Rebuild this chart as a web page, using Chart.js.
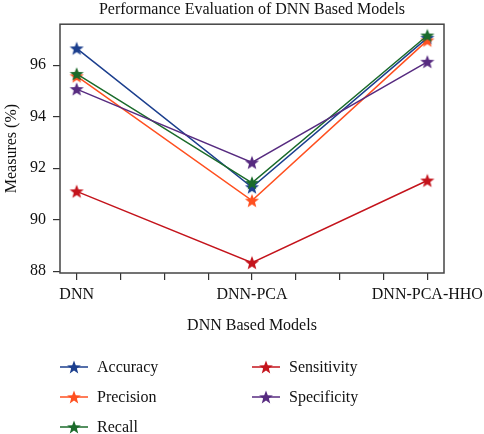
<!DOCTYPE html>
<html>
<head>
<meta charset="utf-8">
<script src="https://cdn.jsdelivr.net/npm/chart.js@4.4.1/dist/chart.umd.min.js"></script>
<style>
  html, body { margin: 0; padding: 0; background: #fff; }
  #wrap { position: relative; width: 484px; height: 434px; }
  #legend {
    position: absolute; left: 60px; top: 352px;
    display: grid; grid-template-columns: 192px 192px;
    grid-auto-flow: column; grid-template-rows: repeat(3, 30px);
    font-family: "Liberation Serif", serif; font-size: 16px; color: #111;
  }
  .item { display: flex; align-items: center; }
  .item canvas { margin-right: 9px; }
</style>
</head>
<body>
<div id="wrap">
  <canvas id="myChart" width="484" height="434"></canvas>
  <div id="legend"></div>
</div>
<script>
const models = ['DNN', 'DNN-PCA', 'DNN-PCA-HHO'];
const xTickVals = [0, 0.25, 0.5, 0.75, 1, 1.25, 1.5, 1.75, 2];
const yTickVals = [88, 90, 92, 94, 96];

const accuracy = [96.65, 91.26, 97.06];
const precision = [95.57, 90.74, 96.96];
const recall = [95.66, 91.43, 97.15];
const sensitivity = [91.1, 88.33, 91.52];
const specificity = [95.07, 92.22, 96.13];

const seriesNames = ['Accuracy', 'Precision', 'Recall', 'Sensitivity', 'Specificity'];
const seriesData = [accuracy, precision, recall, sensitivity, specificity];
const seriesColors = ['#1c3f8e', '#ff5020', '#1b6b2b', '#c4141c', '#572b80'];

function drawStar(ctx, cx, cy, r, color) {
  ctx.beginPath();
  for (let i = 0; i < 10; i++) {
    const rad = i % 2 === 0 ? r : r * 0.42;
    const a = -Math.PI / 2 + i * Math.PI / 5;
    ctx.lineTo(cx + rad * Math.cos(a), cy + rad * Math.sin(a));
  }
  ctx.closePath();
  ctx.fillStyle = color;
  ctx.fill();
}

function makeStar(color) {
  const c = document.createElement('canvas');
  c.width = 16; c.height = 16;
  drawStar(c.getContext('2d'), 8, 8.6, 7.4, color);
  return c;
}

// legend (html)
const legend = document.getElementById('legend');
seriesNames.forEach((name, i) => {
  const item = document.createElement('div');
  item.className = 'item';
  const ic = document.createElement('canvas');
  ic.width = 28; ic.height = 16;
  const g = ic.getContext('2d');
  g.strokeStyle = seriesColors[i];
  g.lineWidth = 1.5;
  g.beginPath(); g.moveTo(0, 8); g.lineTo(28, 8); g.stroke();
  drawStar(g, 14, 8.6, 7.2, seriesColors[i]);
  item.appendChild(ic);
  const t = document.createElement('span');
  t.textContent = name;
  item.appendChild(t);
  legend.appendChild(item);
});

const frame = {
  id: 'frame',
  afterDraw(chart) {
    const a = chart.chartArea;
    const ctx = chart.ctx;
    ctx.save();
    ctx.strokeStyle = '#444';
    ctx.lineWidth = 1.5;
    ctx.strokeRect(a.left, a.top, a.right - a.left, a.bottom - a.top);
    ctx.restore();
  }
};

const font = { family: '"Liberation Serif", serif', size: 16 };

const ctx = document.getElementById('myChart');
const myChart = new Chart(ctx, {
  type: 'line',
  data: {
    datasets: seriesNames.map((name, i) => ({
      label: name,
      data: seriesData[i].map((v, j) => ({ x: j, y: v })),
      borderColor: seriesColors[i],
      backgroundColor: seriesColors[i],
      borderWidth: 1.5,
      tension: 0,
      pointStyle: makeStar(seriesColors[i]),
      order: 5 - i
    }))
  },
  options: {
    responsive: false,
    animation: false,
    layout: { padding: { left: 0, right: 40, top: 0, bottom: 94 } },
    plugins: {
      legend: { display: false },
      tooltip: { enabled: false },
      title: {
        display: true,
        text: 'Performance Evaluation of DNN Based Models',
        fullSize: false,
        color: '#111',
        font: { family: '"Liberation Serif", serif', size: 16, weight: 'normal', lineHeight: 1.2 },
        padding: { top: 0, bottom: 5 }
      }
    },
    scales: {
      x: {
        type: 'linear',
        min: -0.095,
        max: 2.095,
        afterBuildTicks: s => { s.ticks = xTickVals.map(v => ({ value: v })); },
        afterFit: s => { s.height = 67; s.paddingLeft = 0; s.paddingRight = 0; },
        ticks: {
          color: '#111', font: font, padding: 5, maxRotation: 0, autoSkip: false,
          callback: v => Number.isInteger(v) ? models[v] : ''
        },
        grid: { display: true, drawOnChartArea: false, drawTicks: true, tickLength: 7, color: '#333', lineWidth: 1.2 },
        border: { display: false },
        title: { display: true, text: 'DNN Based Models', color: '#111', font: font, padding: { top: 4, bottom: 5 } }
      },
      y: {
        min: 87.93,
        max: 97.59,
        afterBuildTicks: s => { s.ticks = yTickVals.map(v => ({ value: v })); },
        afterFit: s => { s.width = 60; s.paddingTop = 0; s.paddingBottom = 0; },
        ticks: { color: '#111', font: font, padding: 7 },
        grid: { display: true, drawOnChartArea: false, drawTicks: true, tickLength: 7, color: '#333', lineWidth: 1.2 },
        border: { display: false },
        title: { display: true, text: 'Measures (%)', color: '#111', font: font, padding: { top: 2, bottom: 4 } }
      }
    }
  },
  plugins: [frame]
});
</script>
</body>
</html>
